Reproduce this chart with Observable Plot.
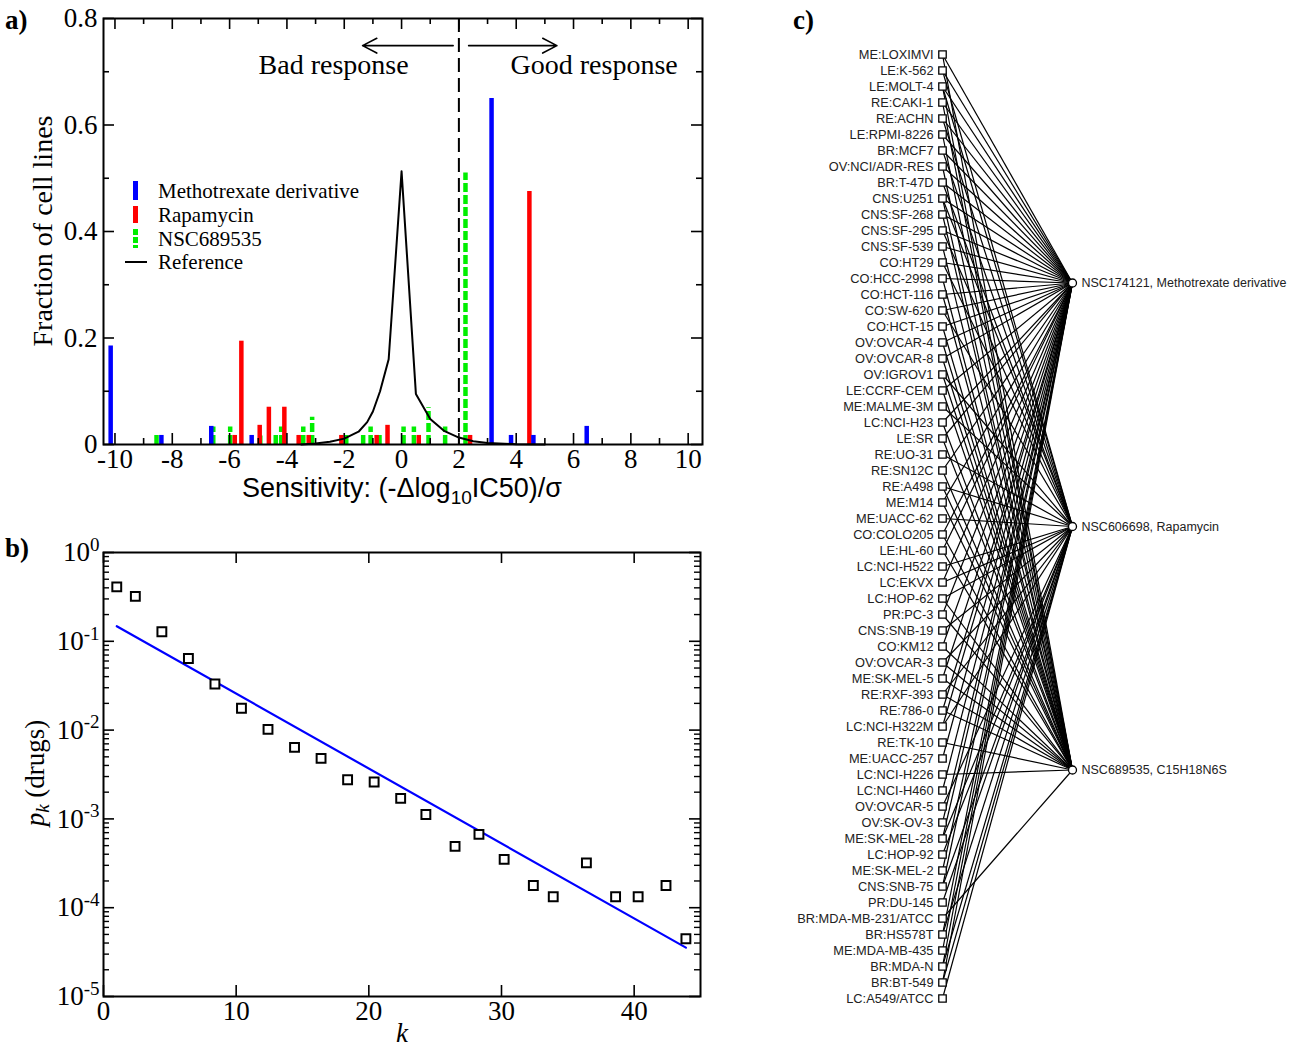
<!DOCTYPE html>
<html><head><meta charset="utf-8">
<script src="https://cdn.jsdelivr.net/npm/d3@7"></script>
<script src="https://cdn.jsdelivr.net/npm/@observablehq/plot@0.6"></script>
<style>
body{margin:0;background:#fff;}
#root{position:relative;width:1298px;height:1047px;overflow:hidden;font-family:"Liberation Serif","Times New Roman",serif;color:#000;}
.abs{position:absolute;white-space:nowrap;}
.panel{font-weight:bold;font-size:27px;line-height:27px;}
.leg{position:absolute;left:125px;height:18px;font-size:21px;line-height:18px;}
.leg .sym{position:absolute;}
.leg .txt{position:absolute;left:33px;top:0;white-space:nowrap;}
.rot{transform:rotate(-90deg);text-align:center;}
</style></head>
<body>
<div id="root">
  <div id="pa" class="abs" style="left:0;top:0"></div>
  <div id="pb" class="abs" style="left:0;top:530px"></div>
  <div id="pc" class="abs" style="left:790px;top:0"></div>

  <div class="abs panel" style="left:5px;top:7px">a)</div>
  <div class="abs panel" style="left:5px;top:535px">b)</div>
  <div class="abs panel" style="left:793px;top:7px">c)</div>

  <div class="abs rot" style="left:-117px;top:217px;width:320px;height:28px;font-size:28px;line-height:28px">Fraction of cell lines</div>
  <div class="abs" style="left:0;top:477px;width:804px;height:22px;text-align:center;font-family:'Liberation Sans',Arial,sans-serif;font-size:27px;line-height:22px">Sensitivity: (-Δlog<sub style="font-size:19px;vertical-align:-7px;line-height:0">10</sub>IC50)/σ</div>

  <div class="leg" style="top:182px"><span class="sym" style="left:8px;top:-1px;width:5px;height:19px;background:#0000ff"></span><span class="txt">Methotrexate derivative</span></div>
  <div class="leg" style="top:206px"><span class="sym" style="left:8px;top:0px;width:5px;height:17px;background:#ff0000"></span><span class="txt">Rapamycin</span></div>
  <div class="leg" style="top:229.5px"><span class="sym" style="left:8px;top:-1px;width:5px;height:19px;background:repeating-linear-gradient(to bottom,#00ee00 0 6px,transparent 6px 8px)"></span><span class="txt">NSC689535</span></div>
  <div class="leg" style="top:253px"><span class="sym" style="left:0px;top:8px;width:22px;height:2px;background:#000"></span><span class="txt">Reference</span></div>

  <div class="abs rot" style="left:-115px;top:759px;width:300px;height:28px;font-size:27px;line-height:28px"><i>p</i><sub style="font-size:19px;vertical-align:-5px"><i>k</i></sub> (drugs)</div>
  <div class="abs" style="left:0;top:1022px;width:804px;text-align:center;font-size:27px;line-height:22px"><i>k</i></div>
</div>
<script>
// ================= DATA =================
// Panel a: sensitivity histogram  [sensitivity, fraction of cell lines]
const methotrexate = [[-10.15,0.185],[-8.38,0.017],[-6.64,0.034],[-5.23,0.017],[3.14,0.65],[3.82,0.017],[4.6,0.017],[6.46,0.034]];
const rapamycin = [[-5.82,0.017],[-5.59,0.194],[-4.95,0.036],[-4.63,0.07],[-4.09,0.07],[-3.59,0.017],[-3.24,0.017],[-2.1,0.017],[-0.87,0.017],[-0.49,0.036],[0.6,0.017],[2.39,0.017],[4.46,0.475]];
const nsc689535 = [[-8.55,0.017],[-6.57,0.033],[-5.98,0.033],[-4.93,0.016],[-4.39,0.017],[-4.2,0.033],[-3.43,0.033],[-3.12,0.051],[-1.93,0.017],[-1.34,0.017],[-1.08,0.033],[-0.77,0.017],[0.07,0.033],[0.43,0.033],[0.94,0.069],[1.52,0.033],[2.23,0.51]];
const reference = [[-3.5,0],[-3,0.002],[-2.5,0.005],[-2,0.011],[-1.5,0.024],[-1.2,0.042],[-1,0.062],[-0.75,0.1],[-0.45,0.16],[0,0.513],[0.5,0.095],[1,0.048],[1.5,0.025],[2,0.013],[2.5,0.006],[3,0.003],[4,0.0005],[5,0]];
const threshold = 2;
const responseLabels = ["Bad response", "Good response"];
const xTicksA = [-10,-8,-6,-4,-2,0,2,4,6,8,10];
const yTicksA = [0,0.2,0.4,0.6,0.8];

// Panel b: degree distribution of drugs  [k, p_k]
const degreePoints = [[1,0.41],[2.4,0.32],[4.4,0.128],[6.4,0.064],[8.4,0.033],[10.4,0.0176],[12.4,0.0102],[14.4,0.0064],[16.4,0.0048],[18.4,0.00276],[20.4,0.0026],[22.4,0.0017],[24.3,0.00112],[26.5,0.00049],[28.3,0.00067],[30.2,0.00035],[32.4,0.000178],[33.9,0.000133],[36.4,0.00032],[38.6,0.000133],[40.3,0.000133],[42.4,0.000178],[43.9,0.0000447]];
const degreeFit = [[1,0.148],[43.9,0.0000355]];
const xTicksB = [0,10,20,30,40];
const yTicksB = [1,0.1,0.01,0.001,0.0001,0.00001];

// Panel c: bipartite network cell lines -> drugs
const cellLines = ["ME:LOXIMVI","LE:K-562","LE:MOLT-4","RE:CAKI-1","RE:ACHN","LE:RPMI-8226","BR:MCF7","OV:NCI/ADR-RES","BR:T-47D","CNS:U251","CNS:SF-268","CNS:SF-295","CNS:SF-539","CO:HT29","CO:HCC-2998","CO:HCT-116","CO:SW-620","CO:HCT-15","OV:OVCAR-4","OV:OVCAR-8","OV:IGROV1","LE:CCRF-CEM","ME:MALME-3M","LC:NCI-H23","LE:SR","RE:UO-31","RE:SN12C","RE:A498","ME:M14","ME:UACC-62","CO:COLO205","LE:HL-60","LC:NCI-H522","LC:EKVX","LC:HOP-62","PR:PC-3","CNS:SNB-19","CO:KM12","OV:OVCAR-3","ME:SK-MEL-5","RE:RXF-393","RE:786-0","LC:NCI-H322M","RE:TK-10","ME:UACC-257","LC:NCI-H226","LC:NCI-H460","OV:OVCAR-5","OV:SK-OV-3","ME:SK-MEL-28","LC:HOP-92","ME:SK-MEL-2","CNS:SNB-75","PR:DU-145","BR:MDA-MB-231/ATCC","BR:HS578T","ME:MDA-MB-435","BR:MDA-N","BR:BT-549","LC:A549/ATCC"];
const drugs = ["NSC174121, Methotrexate derivative","NSC606698, Rapamycin","NSC689535, C15H18N6S"];
// cell-line rows (1-based) linked to each drug
const linksMethotrexate = [1,2,3,4,5,6,7,8,9,10,11,12,13,14,15,16,17,18,19,20,22,24,25,27,29,31,32,34,36,38,40,42,43,45,47,49,50,52,53,56,57,58,59];
const linksRapamycin = [2,3,5,7,9,10,12,14,17,21,23,26,28,30,33,34,35,37,39,41,43,48,50,51,53,54,56,58,59,60];
const linksNSC689535 = [1,3,4,6,8,10,11,13,15,16,18,19,20,21,22,24,25,27,28,29,31,32,35,36,38,39,40,41,42,44,46,55];

// ================= DRAWING =================
const SERIF = "'Liberation Serif','Times New Roman',serif";
const SANS = "'Liberation Sans',Arial,Helvetica,sans-serif";
const BLUE = "#0000ff", RED = "#ff0000", GREEN = "#00ee00";
const pts = arr => arr.map(([x, y]) => ({x, y}));

// ---- Panel a ----
{
  const W = 720, H = 520, L = 103, R = 18, T = 18, B = 76;
  const fw = W - L - R, fh = H - T - B;
  const majLen = 11, minLen = 6;
  const xMinor = d3.range(-9, 10, 2);
  const yMinor = [0.1, 0.3, 0.5, 0.7];
  const arrowY = 0.749, labelY = 0.713;
  const arrows = [
    {x1: threshold - 0.2, x2: threshold - 3.36},
    {x1: threshold + 0.34, x2: threshold + 3.42}
  ];
  const labels = responseLabels.map((t, i) => ({text: t, x: i === 0 ? threshold - 4.37 : threshold + 4.72}));
  const svg = Plot.plot({
    width: W, height: H, marginLeft: L, marginRight: R, marginTop: T, marginBottom: B,
    x: {domain: [-10.4, 10.5]},
    y: {domain: [0, 0.8]},
    style: {fontFamily: SERIF, fontSize: "27px", color: "#000", background: "none", overflow: "visible"},
    marks: [
      Plot.ruleX(pts(nsc689535), {x: "x", y: "y", stroke: GREEN, strokeWidth: 4.5, strokeDasharray: "9,3"}),
      Plot.ruleX(pts(rapamycin), {x: "x", y: "y", stroke: RED, strokeWidth: 4.5}),
      Plot.ruleX(pts(methotrexate), {x: "x", y: "y", stroke: BLUE, strokeWidth: 4.5}),
      Plot.line(pts(reference), {x: "x", y: "y", stroke: "#000", strokeWidth: 2}),
      Plot.ruleX([threshold], {x: d => d, stroke: "#000", strokeWidth: 2, strokeDasharray: "14,6"}),
      Plot.arrow(arrows, {x1: "x1", x2: "x2", y1: () => arrowY, y2: () => arrowY, stroke: "#000", strokeWidth: 1.6, headLength: 15, headAngle: 55, bend: 0}),
      Plot.text(labels, {x: "x", y: () => labelY, text: "text", fontSize: 28, fontFamily: SERIF, fill: "#000"}),
      // inward ticks
      Plot.tickX(xTicksA, {x: d => d, insetTop: fh - majLen, stroke: "#000", strokeWidth: 1.6}),
      Plot.tickX(xTicksA, {x: d => d, insetBottom: fh - majLen, stroke: "#000", strokeWidth: 1.6}),
      Plot.tickX(xMinor, {x: d => d, insetTop: fh - minLen, stroke: "#000", strokeWidth: 1.6}),
      Plot.tickX(xMinor, {x: d => d, insetBottom: fh - minLen, stroke: "#000", strokeWidth: 1.6}),
      Plot.tickY(yTicksA, {y: d => d, insetRight: fw - majLen, stroke: "#000", strokeWidth: 1.6}),
      Plot.tickY(yTicksA, {y: d => d, insetLeft: fw - majLen, stroke: "#000", strokeWidth: 1.6}),
      Plot.tickY(yMinor, {y: d => d, insetRight: fw - minLen, stroke: "#000", strokeWidth: 1.6}),
      Plot.tickY(yMinor, {y: d => d, insetLeft: fw - minLen, stroke: "#000", strokeWidth: 1.6}),
      Plot.frame({stroke: "#000", strokeWidth: 2}),
      Plot.axisX({ticks: xTicksA, tickSize: 0, tickPadding: 4, tickFormat: d => String(d), fontSize: 27, label: null}),
      Plot.axisY({ticks: yTicksA, tickSize: 0, tickPadding: 6, tickFormat: d3.format("~g"), fontSize: 27, label: null})
    ]
  });
  document.getElementById("pa").appendChild(svg);
}

// ---- Panel b ----
{
  const W = 720, H = 517, L = 103, R = 20, T = 22, B = 51;
  const fw = W - L - R, fh = H - T - B;
  const majLen = 11, minLen = 6;
  const yMinor = yTicksB.slice(1).flatMap(d => d3.range(2, 10).map(m => m * d));
  const svg = Plot.plot({
    width: W, height: H, marginLeft: L, marginRight: R, marginTop: T, marginBottom: B,
    x: {domain: [0, 45]},
    y: {type: "log", domain: [1e-5, 1]},
    style: {fontFamily: SERIF, fontSize: "27px", color: "#000", background: "none", overflow: "visible"},
    marks: [
      Plot.line(pts(degreeFit), {x: "x", y: "y", stroke: BLUE, strokeWidth: 2.2}),
      Plot.dot(pts(degreePoints), {x: "x", y: "y", symbol: "square", r: 5, fill: "white", stroke: "#000", strokeWidth: 2}),
      Plot.tickX(xTicksB, {x: d => d, insetTop: fh - majLen, stroke: "#000", strokeWidth: 1.6}),
      Plot.tickX(xTicksB, {x: d => d, insetBottom: fh - majLen, stroke: "#000", strokeWidth: 1.6}),
      Plot.tickY(yTicksB, {y: d => d, insetRight: fw - majLen, stroke: "#000", strokeWidth: 1.6}),
      Plot.tickY(yTicksB, {y: d => d, insetLeft: fw - majLen, stroke: "#000", strokeWidth: 1.6}),
      Plot.tickY(yMinor, {y: d => d, insetRight: fw - minLen, stroke: "#000", strokeWidth: 1.4}),
      Plot.tickY(yMinor, {y: d => d, insetLeft: fw - minLen, stroke: "#000", strokeWidth: 1.4}),
      Plot.frame({stroke: "#000", strokeWidth: 2}),
      Plot.axisX({ticks: xTicksB, tickSize: 0, tickPadding: 4, tickFormat: d => String(d), fontSize: 27, label: null}),
      Plot.axisY({ticks: yTicksB, tickSize: 0, tickPadding: 4, tickFormat: d => "10^" + Math.round(Math.log10(d)), fontSize: 27, label: null})
    ]
  });
  // superscript exponents
  const ns = "http://www.w3.org/2000/svg";
  svg.querySelectorAll('[aria-label="y-axis tick label"] text').forEach(t => {
    const s = t.textContent;
    if (!s.includes("^")) return;
    const [base, exp] = s.split("^");
    t.textContent = "";
    const a = document.createElementNS(ns, "tspan"); a.textContent = base; t.appendChild(a);
    const b = document.createElementNS(ns, "tspan"); b.textContent = exp;
    b.setAttribute("dy", "-0.55em"); b.setAttribute("font-size", "19"); t.appendChild(b);
  });
  document.getElementById("pb").appendChild(svg);
}

// ---- Panel c ----
{
  const W = 508, H = 1047, L = 152, R = 226, T = 54, B = 49;
  const n = cellLines.length;
  const mid = (n - 1) / 2, gap = 15.22;
  const drugRow = drugs.map((d, j) => mid + (j - 1) * gap);
  const edges = [linksMethotrexate, linksRapamycin, linksNSC689535]
    .flatMap((rows, j) => rows.map(r => ({cell: r - 1, drug: j})));
  const cells = cellLines.map((name, i) => ({name, i}));
  const drugNodes = drugs.map((name, j) => ({name, row: drugRow[j]}));
  const svg = Plot.plot({
    width: W, height: H, marginLeft: L, marginRight: R, marginTop: T, marginBottom: B,
    x: {domain: [0, 1], axis: null},
    y: {domain: [0, n - 1], reverse: true, axis: null},
    style: {fontFamily: SANS, background: "none", overflow: "visible"},
    marks: [
      Plot.link(edges, {x1: () => 0, y1: "cell", x2: () => 1, y2: d => drugRow[d.drug], stroke: "#000", strokeWidth: 1.2}),
      Plot.dot(cells, {x: () => 0, y: "i", symbol: "square", r: 4.2, fill: "white", stroke: "#000", strokeWidth: 1.3}),
      Plot.text(cells, {x: () => 0, y: "i", text: "name", textAnchor: "end", dx: -9, fontSize: 12.8, fill: "#222"}),
      Plot.dot(drugNodes, {x: () => 1, y: "row", symbol: "circle", r: 4, fill: "white", stroke: "#000", strokeWidth: 1.3}),
      Plot.text(drugNodes, {x: () => 1, y: "row", text: "name", textAnchor: "start", dx: 9, fontSize: 12.5, fill: "#222"})
    ]
  });
  document.getElementById("pc").appendChild(svg);
}
</script>
</body></html>
